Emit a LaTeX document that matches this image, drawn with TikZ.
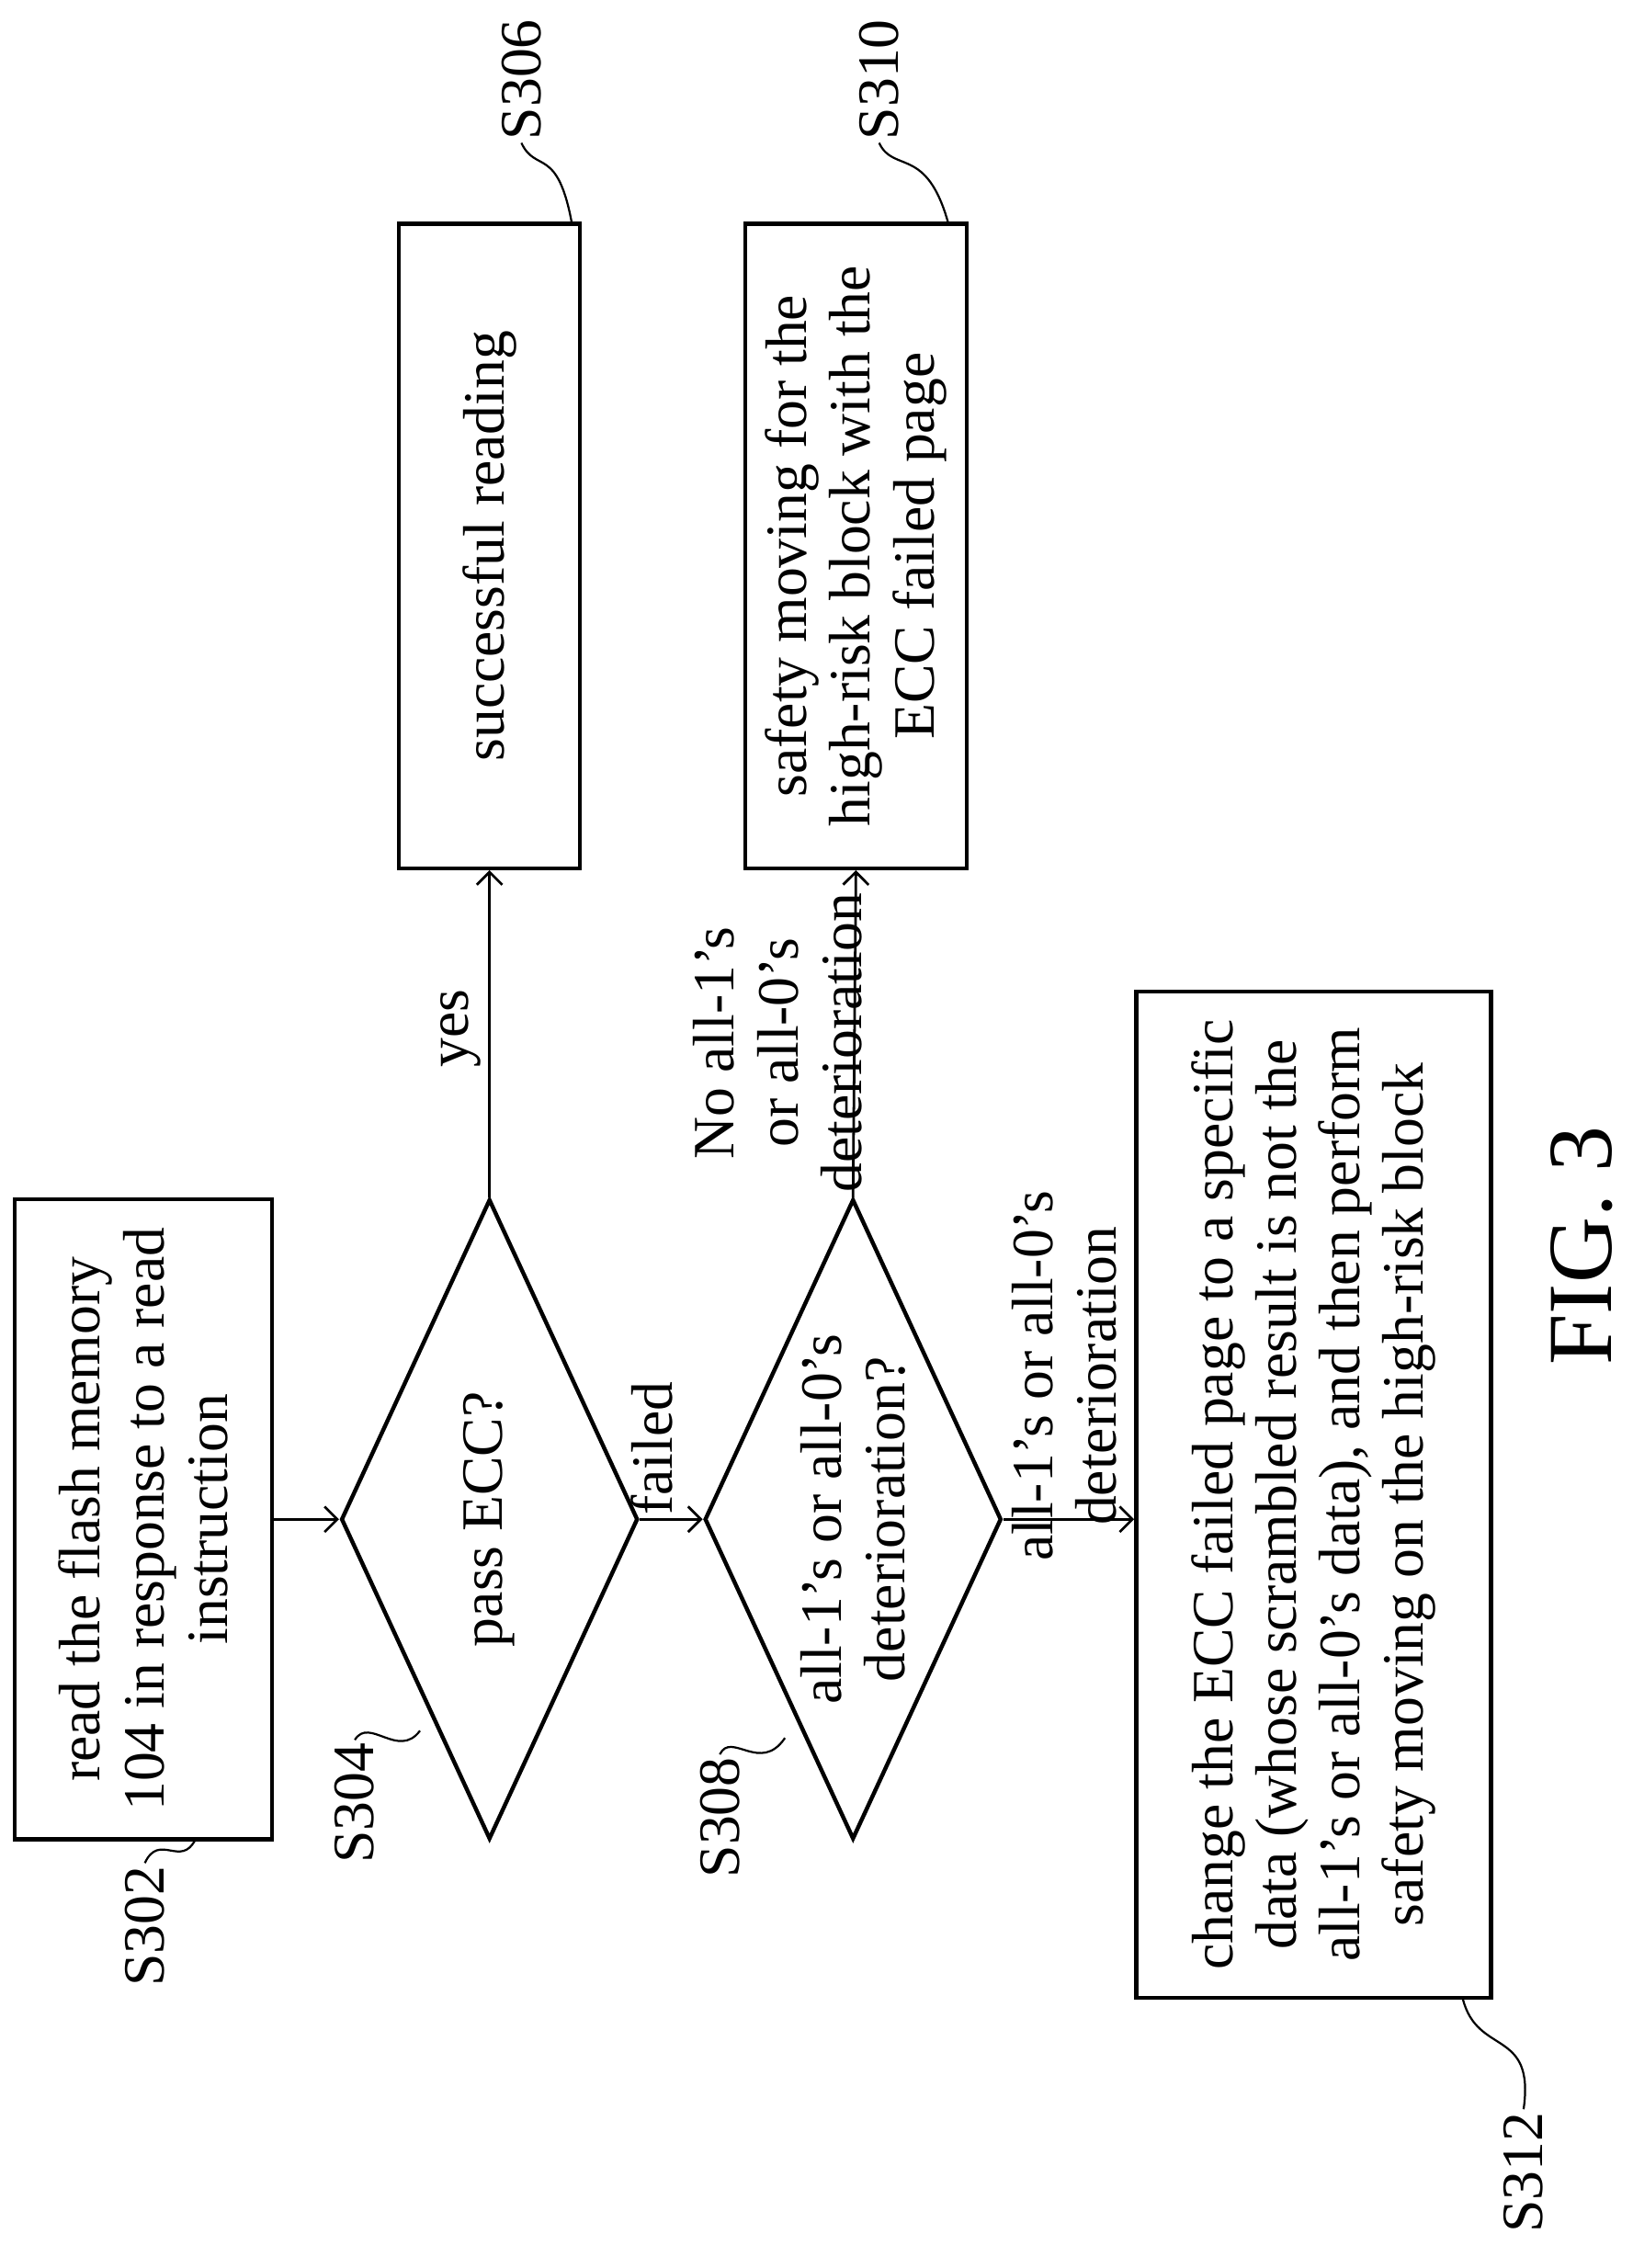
\documentclass[tikz,border=0pt]{standalone}
\usepackage{fontspec}
\setmainfont{Liberation Serif}
\usetikzlibrary{shapes.geometric,arrows.meta}
\begin{document}
\begin{tikzpicture}[x=0.02cm,y=-0.02cm,
  every node/.style={font=\fontsize{23}{25}\selectfont},
  box/.style={draw,line width=1.6pt,rotate=90,align=center,inner sep=0pt},
  dia/.style={draw,line width=1.6pt,diamond,inner sep=0pt,minimum width=4.1cm,minimum height=8.84cm,aspect=0.464},
  txt/.style={rotate=90,align=center,inner sep=0pt},
  tag/.style={rotate=90,inner sep=1pt},
  flow/.style={line width=1pt,-{Straight Barb[length=5pt]}},
  wave/.style={line width=0.8pt}]
\useasboundingbox (0,0) rectangle (1127,1566);
% boxes (rotated: width is vertical extent)
\node[box,minimum width=8.84cm,minimum height=3.56cm] (s302) at (99,1049) {read the flash memory\\104 in response to a read\\instruction};
\node[dia] (s304) at (338,1049) {};
\node[txt] at (s304.center) {pass ECC?};
\node[box,minimum width=8.9cm,minimum height=2.5cm] (s306) at (338,377) {successful reading};
\node[dia] (s308) at (589,1049) {};
\node[txt] at (s308.center) {all-1's or all-0's\\deterioration?};
\node[box,minimum width=8.9cm,minimum height=3.06cm] (s310) at (591,377) {safety moving for the\\high-risk block with the\\ECC failed page};
\node[box,minimum width=13.9cm,minimum height=4.9cm] (s312) at (907,1032) {change the ECC failed page to a specific\\data (whose scrambled result is not the\\all-1's or all-0's data), and then perform\\safety moving on the high-risk block};
% connectors
\draw[flow] (s302) -- (s304.west);
\draw[flow] (s304.north) -- (s306.west);
\draw[flow] (s304.east) -- (s308.west);
\draw[flow] (s308.north) -- (s310.west);
\draw[flow] (s308.east) -- (s308.east -| s312.north) coordinate (c312);
\node[txt] at (318,710) {yes};
\node[txt,anchor=south] at (465,1000) {failed};
\node[txt] at (537,720) {No all-1's\\or all-0's\\deterioration};
\node[txt] at (735,950) {all-1's or all-0's\\deterioration};
% step tags
\node[tag] (t302) at (100,1330) {S302};
\node[tag] (t304) at (245,1245) {S304};
\node[tag] (t306) at (360,55) {S306};
\node[tag] (t308) at (497,1255) {S308};
\node[tag] (t310) at (607,55) {S310};
\node[tag] (t312) at (1052,1500) {S312};
\draw[wave] (t302.east) .. controls (110,1265) and (125,1290) .. (135,1270);
\draw[wave] (t304.east) .. controls (255,1185) and (275,1215) .. (290,1195);
\draw[wave] (t306.west) .. controls (370,120) and (385,100) .. (395,155);
\draw[wave] (t308.east) .. controls (505,1195) and (525,1225) .. (542,1200);
\draw[wave] (t310.west) .. controls (617,120) and (640,100) .. (655,155);
\draw[wave] (t312.east) .. controls (1060,1400) and (1020,1420) .. (1010,1380);
\node[rotate=90,font=\fontsize{36}{40}\selectfont] (fig) at (1092,860) {FIG. 3};
\end{tikzpicture}
\end{document}
